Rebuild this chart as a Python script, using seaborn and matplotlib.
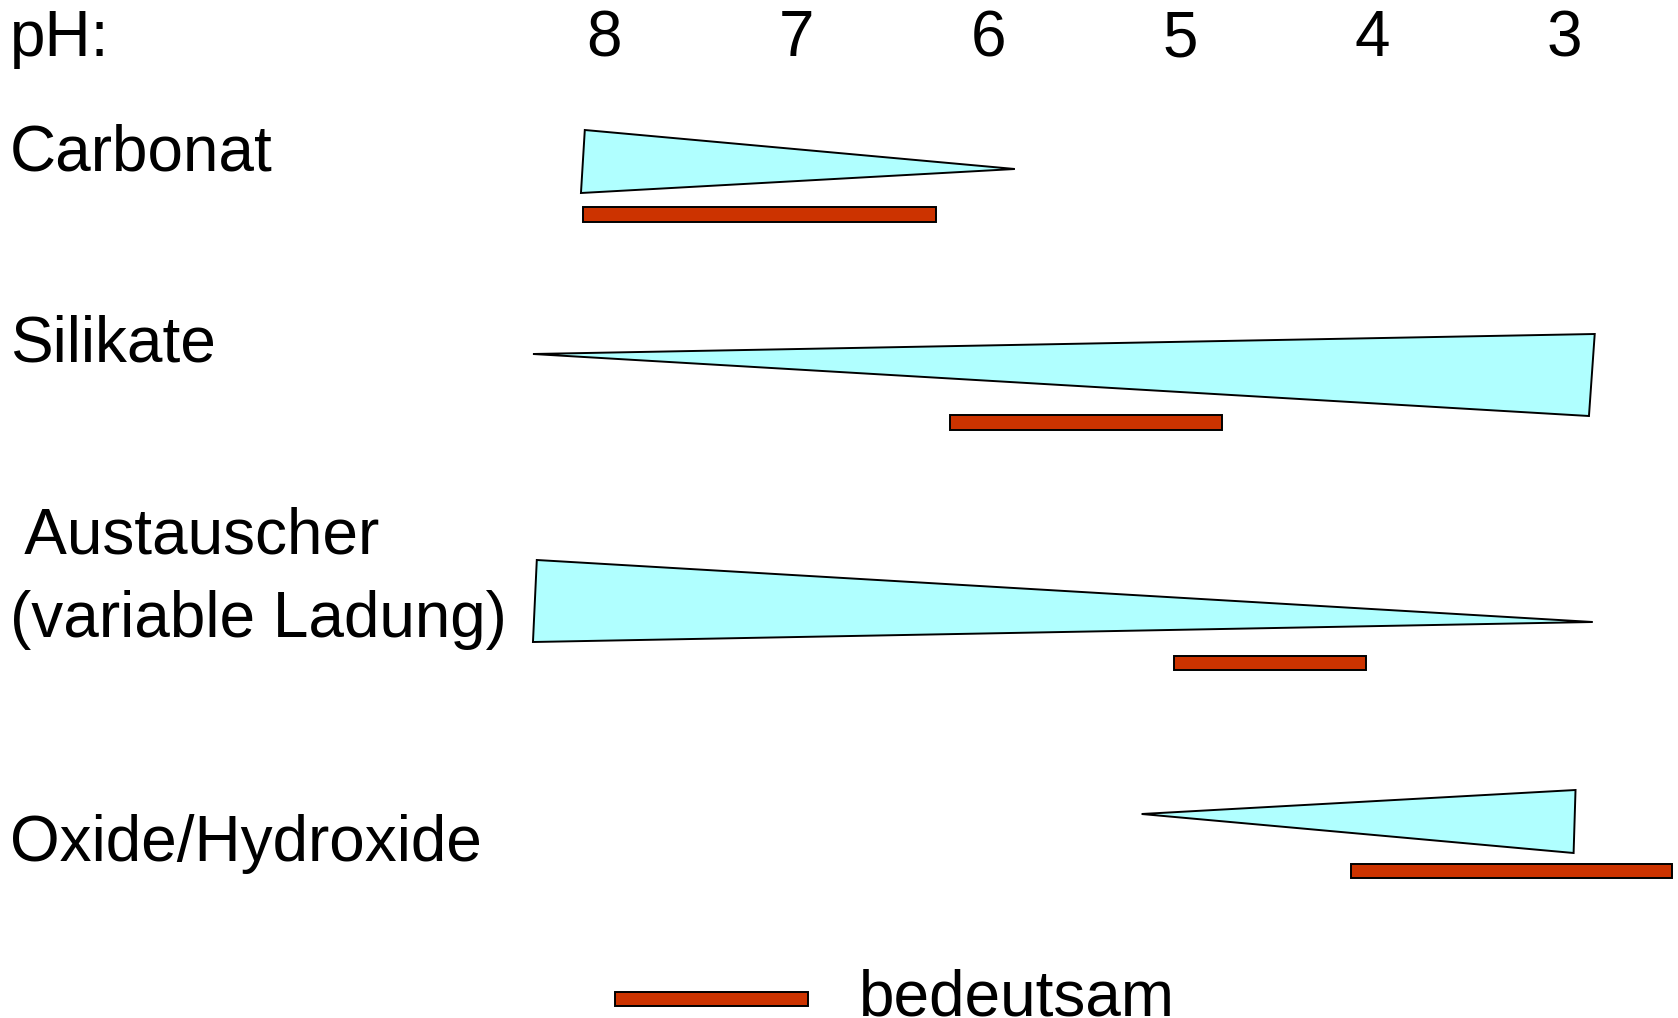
import numpy as np
import pandas as pd
import seaborn as sns
import matplotlib.pyplot as plt

# pH scale shown across the top
ph_ticks = [8, 7, 6, 5, 4, 3]

# mineral groups (buffer systems)
labels = ["Carbonat", "Silikate", " Austauscher\n(variable Ladung)", "Oxide/Hydroxide"]

# triangle: pH of the wide end (top / bottom corner) and pH of the tip
wide_ph_top = [8.10, 2.84, 8.35, 2.94]
wide_ph_bot = [8.12, 2.87, 8.37, 2.95]
tip_ph = [5.86, 8.37, 2.85, 5.20]

# red bar: pH range where the buffer is important ("bedeutsam")
bar_ph_start = [8.11, 6.20, 5.03, 4.11]
bar_ph_end = [6.27, 4.78, 4.03, 2.44]

legend_label = "bedeutsam"
legend_ph = [7.945, 6.94]

# ---- layout (pixels, y measured from top) ----
W, H = 1678, 1018
ph_left_px, px_per_ph = 604, 192
wide_top_y = [130, 334, 560, 790]
wide_bot_y = [193, 416, 642, 853]
tip_y = [169, 354, 622, 814]
bar_y = [214.5, 422.5, 663, 871]
bar_h = 14.5
label_base_y = [170, 362, [554, 637], 861]

cyan = "#B0FFFF"
red = "#CC3300"

sns.set_theme(style="white")
plt.rcParams["font.family"] = ["Liberation Sans", "DejaVu Sans"]
plt.rcParams["text.color"] = "black"

fig = plt.figure(figsize=(W / 100, H / 100), dpi=100)
ax = fig.add_axes([0, 0, 1, 1])
ax.set_xlim(8 + ph_left_px / px_per_ph, 8 - (W - ph_left_px) / px_per_ph)
ax.set_ylim(H, 0)
ax.axis("off")

df = pd.DataFrame({"label": labels, "wt": wide_ph_top, "wb": wide_ph_bot, "tip": tip_ph,
                   "b0": bar_ph_start, "b1": bar_ph_end})

for i, row in df.iterrows():
    ax.fill([row["wt"], row["tip"], row["wb"]], [wide_top_y[i], tip_y[i], wide_bot_y[i]],
            facecolor=cyan, edgecolor="black", linewidth=1.4)
    ax.barh(bar_y[i], row["b1"] - row["b0"], left=row["b0"], height=bar_h,
            color=red, edgecolor="black", linewidth=1.4)

# row labels
ylab = ax.get_yaxis_transform()
for i, lab in enumerate(labels):
    lines = lab.split("\n")
    bases = label_base_y[i] if isinstance(label_base_y[i], list) else [label_base_y[i]]
    for line, yb in zip(lines, bases):
        ax.text(10 / W, yb, line, transform=ylab, fontsize=46, va="baseline", ha="left", color="black")

# pH header
ax.text(10 / W, 56, "pH:", transform=ylab, fontsize=46, va="baseline", ha="left", color="black")
for p in ph_ticks:
    ax.text(p, 56, str(p), fontsize=46, va="baseline", ha="center", color="black")

# legend
ax.barh(999, legend_ph[1] - legend_ph[0], left=legend_ph[0], height=bar_h,
        color=red, edgecolor="black", linewidth=1.4)
ax.text(6.67, 1015, legend_label, fontsize=46, va="baseline", ha="left", color="black")

plt.savefig("out.png", dpi=100)
